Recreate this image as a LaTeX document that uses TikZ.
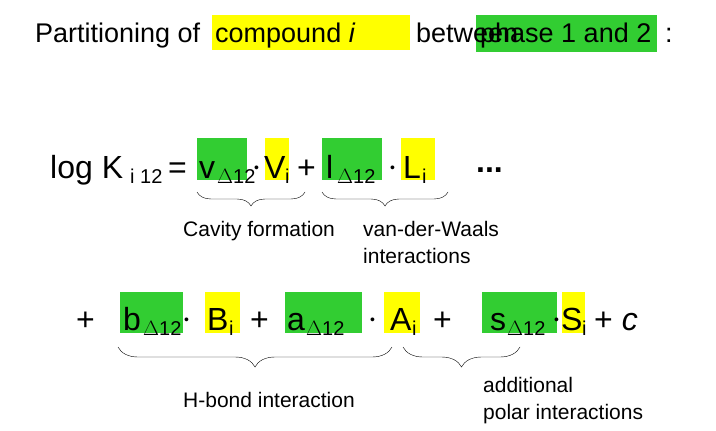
\documentclass[tikz,border=0pt]{standalone}
\usepackage{fontspec}
\setmainfont{Liberation Sans}
\usetikzlibrary{decorations.pathreplacing}
\definecolor{gr}{RGB}{50,205,50}
\definecolor{yl}{RGB}{255,255,0}
\begin{document}
\begin{tikzpicture}[x=1pt,y=-1pt,
  t/.style={anchor=base west,inner sep=0pt},
  ti/.style={t,font=\fontsize{27}{30}\selectfont},
  eq/.style={t,font=\fontsize{32}{36}\selectfont},
  sub/.style={t,font=\fontsize{20}{23}\selectfont},
  dt/.style={t,font=\fontsize{14}{16}\selectfont},
  lab/.style={t,font=\fontsize{21}{25}\selectfont},
  gbox/.style={fill=gr,draw=none},
  ybox/.style={fill=yl,draw=none},
  bra/.style={decorate,decoration={brace,mirror,amplitude=14pt},thin},
  brb/.style={decorate,decoration={brace,mirror,amplitude=20pt},thin}]
\useasboundingbox (0,0) rectangle (716,431);
% title
\fill[yl] (212,15) rectangle (410,50);
\fill[gr] (476,15) rectangle (657,52);
\node[ti] (t1) at (35,42) {Partitioning of};
\node[ti] (t2) at (215,42) {compound \textit{i}};
\node[ti] (t3) at (416,42) {between};
\node[ti] (t4) at (480,42) {phase 1 and 2};
\node[ti] (t5) at (665,42) {:};
% line 1
\fill[gbox] (197,138) rectangle (247,180);
\fill[ybox] (265,138) rectangle (289,180);
\fill[gbox] (322,138) rectangle (382,180);
\fill[ybox] (401,138) rectangle (435,180);
\node[eq] (log) at (50,178) {log K};
\node[sub] (s1) at (130,183) {i 12};
\node[eq] (eq1) at (168,178) {=};
\node[eq] (v) at (199,178) {v};
\node[sub] (vs) at (217,183) {$\Delta$12};
\node[dt] (d1) at (254,172) {\textbullet};
\node[eq] (V) at (264,178) {V};
\node[sub] (Vs) at (285,183) {i};
\node[eq] (p1) at (297,178) {+};
\node[eq] (l) at (326,178) {l};
\node[sub] (ls) at (337,183) {$\Delta$12};
\node[dt] (d2) at (390,172) {\textbullet};
\node[eq] (L) at (403,178) {L};
\node[sub] (Ls) at (422,183) {i};
\node[eq] (dots) at (476,172) {\textbf{...}};
\coordinate (b1a) at (197,192); \coordinate (b1b) at (305,192);
\coordinate (b2a) at (322,192); \coordinate (b2b) at (448,192);
\draw[bra] (b1a) -- (b1b);
\draw[bra] (b2a) -- (b2b);
\node[lab] (cav) at (183,236) {Cavity formation};
\node[lab] (vdw) at (363,236) {van-der-Waals};
\node[lab] (int) at (363,263) {interactions};
% line 2
\fill[gbox] (120,292) rectangle (183,333);
\fill[ybox] (205,292) rectangle (240,333);
\fill[gbox] (285,292) rectangle (362,333);
\fill[ybox] (384,292) rectangle (420,333);
\fill[gbox] (482,292) rectangle (557,333);
\fill[ybox] (562,292) rectangle (585,333);
\node[eq] (q1) at (76,330) {+};
\node[eq] (b) at (123,330) {b};
\node[sub] (bs) at (143,335) {$\Delta$12};
\node[dt] (d3) at (184,324) {\textbullet};
\node[eq] (B) at (207,330) {B};
\node[sub] (Bs) at (229,335) {i};
\node[eq] (q2) at (250,330) {+};
\node[eq] (a) at (287,330) {a};
\node[sub] (as) at (306,335) {$\Delta$12};
\node[dt] (d4) at (370,324) {\textbullet};
\node[eq] (A) at (390,330) {A};
\node[sub] (As) at (412,335) {i};
\node[eq] (q3) at (433,330) {+};
\node[eq] (s) at (490,330) {s};
\node[sub] (ss) at (507,335) {$\Delta$12};
\node[dt] (d5) at (554,324) {\textbullet};
\node[eq] (S) at (561,330) {S};
\node[sub] (Ss) at (582,335) {i};
\node[eq] (q4) at (594,330) {+ \textit{c}};
\coordinate (b3a) at (118,347); \coordinate (b3b) at (392,347);
\coordinate (b4a) at (403,347); \coordinate (b4b) at (520,347);
\draw[brb] (b3a) -- (b3b);
\draw[brb] (b4a) -- (b4b);
\node[lab] (hb) at (183,407) {H-bond interaction};
\node[lab] (add) at (483,392) {additional};
\node[lab] (pol) at (483,419) {polar interactions};
\end{tikzpicture}
\end{document}
